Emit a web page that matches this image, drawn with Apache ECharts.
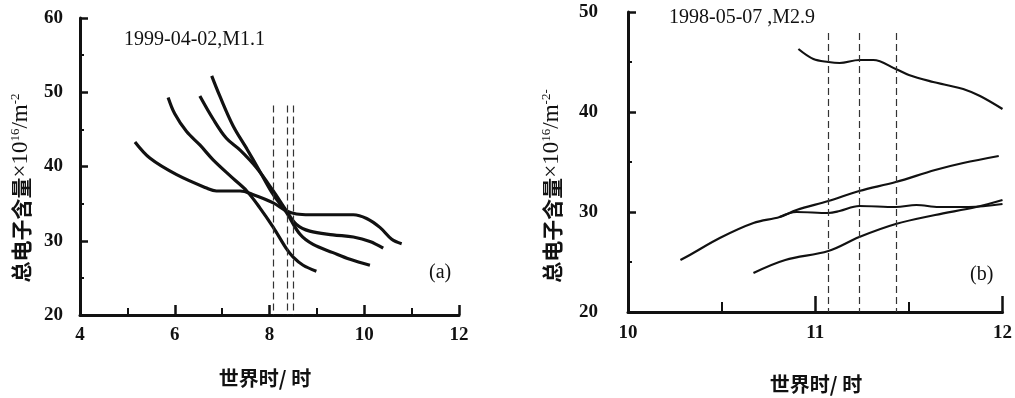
<!DOCTYPE html>
<html><head><meta charset="utf-8">
<script src="https://cdn.jsdelivr.net/npm/echarts@6/dist/echarts.min.js"></script>
<style>html,body{margin:0;padding:0;background:#fff}#c{width:1015px;height:398px}</style>
</head><body><div id="c"></div>
<script>
// Panel (a) 1999-04-02, M1.1 : [UT hour, TEC]
const aCurve1 = [[5.16,43.3],[5.48,41.1],[6.04,38.9],[6.67,37.1],[6.88,36.7],[7.38,36.7],[7.66,36.2],[8.08,35.1],[8.36,34.0],[8.57,33.6],[8.85,33.5],[9.34,33.5],[9.77,33.5],[10.05,33.0],[10.33,31.8],[10.58,30.2],[10.79,29.6]];
const aCurve2 = [[5.86,49.3],[6.0,47.1],[6.25,44.7],[6.53,42.9],[6.81,40.9],[7.23,38.4],[7.52,36.7],[7.80,34.4],[8.08,31.8],[8.36,28.9],[8.50,27.8],[8.71,26.7],[8.99,25.9]];
const aCurve3 = [[6.53,49.5],[6.81,46.4],[7.09,43.8],[7.38,42.2],[7.73,39.8],[8.08,36.7],[8.36,34.0],[8.57,32.2],[8.85,31.3],[9.34,30.8],[9.77,30.5],[10.12,29.9],[10.40,29.0]];
const aCurve4 = [[6.78,52.2],[6.95,49.5],[7.23,45.5],[7.52,42.4],[7.80,39.3],[8.08,36.2],[8.36,33.8],[8.64,30.9],[8.92,29.5],[9.34,28.4],[9.70,27.5],[10.12,26.7]];
const aDashX = [8.08, 8.37, 8.51];
const aDashTop = 48.2;
// Panel (b) 1998-05-07, M2.9
const bCurve1 = [[10.91,46.3],[10.99,45.3],[11.07,45.0],[11.13,44.9],[11.235,45.2],[11.31,45.2],[11.43,44.3],[11.50,43.7],[11.63,43.0],[11.70,42.7],[11.79,42.3],[11.88,41.6],[12.0,40.3]];
const bCurve2 = [[10.28,25.2],[10.33,25.7],[10.49,27.4],[10.67,28.9],[10.81,29.5],[10.90,30.2],[11.07,31.1],[11.235,32.1],[11.43,33.0],[11.64,34.2],[11.79,34.9],[11.98,35.6]];
const bCurve3 = [[10.81,29.5],[10.90,30.0],[11.07,29.9],[11.13,30.1],[11.235,30.6],[11.43,30.5],[11.54,30.7],[11.66,30.5],[11.82,30.5],[12.0,30.8]];
const bCurve4 = [[10.67,23.9],[10.84,25.2],[11.07,26.1],[11.235,27.5],[11.43,28.8],[11.64,29.7],[11.86,30.5],[12.0,31.2]];
const bDashX = [11.07, 11.235, 11.435];
const bDashTop = 47.9;
// axes
const aXRange = [4, 12], aYRange = [20, 60];
const bXRange = [10, 12], bYRange = [20, 50];
const titleA = '1999-04-02,M1.1', titleB = '1998-05-07 ,M2.9';
const xTitle = '世界时/ 时';

const chart = echarts.init(document.getElementById('c'));
const ink = '#111';
const serif = '"Liberation Serif","Times New Roman",serif';
const cjk = '"Noto Sans CJK SC","Noto Sans",sans-serif';

function xAx(gi, r, iv, majorLen, minorLen, margin) {
  return {type:'value', gridIndex:gi, min:r[0], max:r[1], interval:iv,
    axisLine:{lineStyle:{color:ink, width:3}},
    axisTick:{inside:true, length:majorLen, lineStyle:{color:ink, width:2.5}},
    minorTick:{show:true, splitNumber:2, length:minorLen, lineStyle:{color:ink, width:2}},
    splitLine:{show:false}, minorSplitLine:{show:false},
    axisLabel:{color:ink, fontFamily:serif, fontSize:19, fontWeight:'bold', margin:margin}};
}
function yAx(gi, r, margin) {
  return {type:'value', gridIndex:gi, min:r[0], max:r[1], interval:10,
    axisLine:{show:true, lineStyle:{color:ink, width:3}},
    axisTick:{show:true, inside:true, length:8, lineStyle:{color:ink, width:2.5}},
    minorTick:{show:true, splitNumber:2, length:4, lineStyle:{color:ink, width:2}},
    splitLine:{show:false}, minorSplitLine:{show:false},
    axisLabel:{color:ink, fontFamily:serif, fontSize:19, fontWeight:'bold', margin:margin}};
}
function line(data, xi, w) {
  return {type:'line', xAxisIndex:xi, yAxisIndex:xi, data:data, smooth:0.35,
    showSymbol:false, silent:true, lineStyle:{color:ink, width:w}};
}
function dashes(xs, top, bottom, xi) {
  return {type:'line', xAxisIndex:xi, yAxisIndex:xi, data:[], silent:true,
    markLine:{silent:true, symbol:'none', label:{show:false},
      lineStyle:{color:'#333', width:1.2, type:[7,4]},
      data: xs.map(x => [{coord:[x, top]}, {coord:[x, bottom]}])}};
}

const yTitleRich = {
  t:{fontFamily:cjk, fontSize:21, fontWeight:'bold', fill:ink},
  s:{fontFamily:serif, fontSize:13, fill:ink, verticalAlign:'top', padding:[0,0,10,0]},
  m:{fontFamily:serif, fontSize:23, fill:ink}
};

chart.setOption({
  backgroundColor:'#fff',
  animation:false,
  grid:[{left:80, top:18, width:379, height:297},
        {left:628, top:12, width:375, height:300}],
  xAxis:[xAx(0, aXRange, 2, 10, 7, 11),
         xAx(1, bXRange, 1, 16, 10, 12)],
  yAxis:[yAx(0, aYRange, 17), yAx(1, bYRange, 30)],
  series:[
    line(aCurve1,0,3.2), line(aCurve2,0,3.2), line(aCurve3,0,3.2), line(aCurve4,0,3.2),
    dashes(aDashX, aDashTop, aYRange[0], 0),
    line(bCurve1,1,2.2), line(bCurve2,1,2.2), line(bCurve3,1,2.2), line(bCurve4,1,2.2),
    dashes(bDashX, bDashTop, bYRange[0], 1)
  ],
  graphic:[
    {type:'text', left:124, top:30, style:{text:titleA, font:'20px '+serif, fill:ink}},
    {type:'text', left:669, top:8, style:{text:titleB, font:'20px '+serif, fill:ink}},
    {type:'text', left:429, top:263, style:{text:'(a)', font:'20px '+serif, fill:ink}},
    {type:'text', left:970, top:265, style:{text:'(b)', font:'20px '+serif, fill:ink}},
    {type:'text', x:21, y:188, rotation:Math.PI/2, style:{
      text:'{t|总电子含量}{m|×10}{s|16}{m|/m}{s|-2}', rich:yTitleRich, align:'center', verticalAlign:'middle'}},
    {type:'text', x:552, y:186, rotation:Math.PI/2, style:{
      text:'{t|总电子含量}{m|×10}{s|16}{m|/m}{s|-2-}', rich:yTitleRich, align:'center', verticalAlign:'middle'}},
    {type:'text', x:265, y:378, style:{text:xTitle, font:'bold 20px '+cjk, fill:ink, align:'center', verticalAlign:'middle'}},
    {type:'text', x:816, y:384, style:{text:xTitle, font:'bold 20px '+cjk, fill:ink, align:'center', verticalAlign:'middle'}}
  ]
});
</script></body></html>
